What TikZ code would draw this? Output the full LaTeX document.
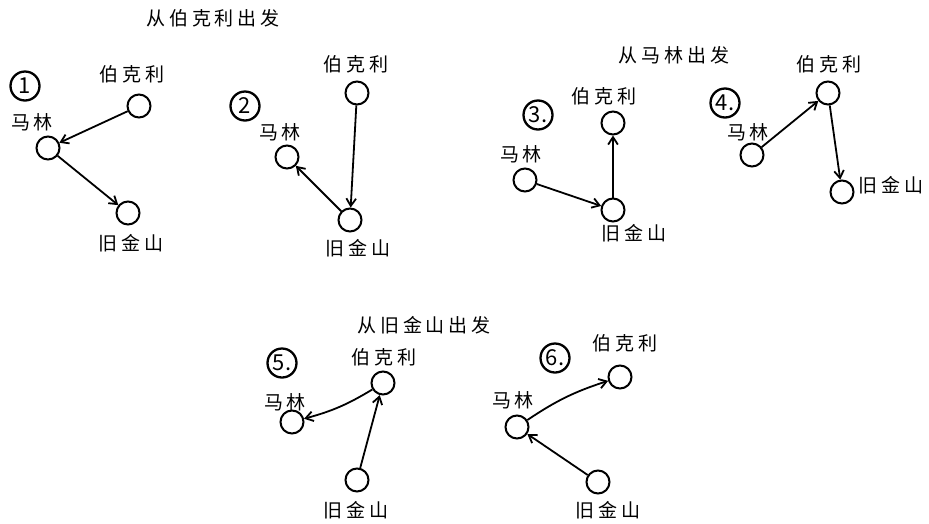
\documentclass[tikz,border=0pt]{standalone}
\usepackage{fontspec}
\setmainfont{Noto Sans CJK SC}
\newfontfamily\handfont[LetterSpace=20]{Noto Sans CJK SC}
\usetikzlibrary{arrows.meta,positioning}

\begin{document}
\begin{tikzpicture}[x=1pt,y=-1pt,>={Straight Barb[length=2.6mm,width=3.4mm]},city/.style={circle, draw, line width=2pt, minimum size=23pt, inner sep=0pt},num/.style={circle, draw, line width=2.3pt, minimum size=29pt, inner sep=0pt, font=\fontsize{22}{22}\selectfont},lbl/.style={font=\handfont\fontsize{19}{21}\selectfont},road/.style={->, line width=1.8pt}]
\useasboundingbox (0,0) rectangle (929,523);
% titles
\node[lbl] (t1) at (213,18) {从伯克利出发};\node[lbl] (t2) at (674,55) {从马林出发};\node[lbl] (t3) at (424,325) {从旧金山出发};
% 1
\node[num] (n1) at (25,86) {1};
\node[city] (b1) at (139,106) {};\node[lbl] (b1t) at (132,74) {伯克利};
\node[city] (m1) at (48,148) {};\node[lbl] (m1t) at (32,122) {马林};
\node[city] (s1) at (128,213) {};\node[lbl] (s1t) at (131,243) {旧金山};
\draw[road] (b1) -- (m1);\draw[road] (m1) -- (s1);
% 2
\node[num] (n2) at (245,106) {2};
\node[city] (b2) at (357,93) {};\node[lbl] (b2t) at (356,64) {伯克利};
\node[city] (m2) at (287,157) {};\node[lbl] (m2t) at (280,132) {马林};
\node[city] (s2) at (350,220) {};\node[lbl] (s2t) at (358,248) {旧金山};
\draw[road] (b2) -- (s2);\draw[road] (s2) -- (m2);
% 3
\node[num] (n3) at (538,115) {3.};
\node[city] (b3) at (613,123) {};\node[lbl] (b3t) at (604,96) {伯克利};
\node[city] (m3) at (525,180) {};\node[lbl] (m3t) at (521,154) {马林};
\node[city] (s3) at (613,210) {};\node[lbl] (s3t) at (634,233) {旧金山};
\draw[road] (m3) -- (s3);\draw[road] (s3) -- (b3);
% 4
\node[num] (n4) at (725,103) {4.};
\node[city] (b4) at (828,93) {};\node[lbl] (b4t) at (829,64) {伯克利};
\node[city] (m4) at (752,155) {};\node[lbl] (m4t) at (748,132) {马林};
\node[city] (s4) at (842,192) {};\node[lbl] (s4t) at (891,185) {旧金山};
\draw[road] (m4) -- (b4);\draw[road] (b4) -- (s4);
% 5
\node[num] (n5) at (282,363) {5.};
\node[city] (b5) at (383,383) {};\node[lbl] (b5t) at (384,357) {伯克利};
\node[city] (m5) at (292,422) {};\node[lbl] (m5t) at (285,402) {马林};
\node[city] (s5) at (357,480) {};\node[lbl] (s5t) at (356,510) {旧金山};
\draw[road] (s5) -- (b5);\draw[road] (b5) to[bend left=8] (m5);
% 6
\node[num] (n6) at (555,358) {6.};
\node[city] (b6) at (620,377) {};\node[lbl] (b6t) at (625,343) {伯克利};
\node[city] (m6) at (517,427) {};\node[lbl] (m6t) at (513,400) {马林};
\node[city] (s6) at (598,482) {};\node[lbl] (s6t) at (608,510) {旧金山};
\draw[road] (s6) -- (m6);\draw[road] (m6) to[bend left=8] (b6);
\end{tikzpicture}
\end{document}
